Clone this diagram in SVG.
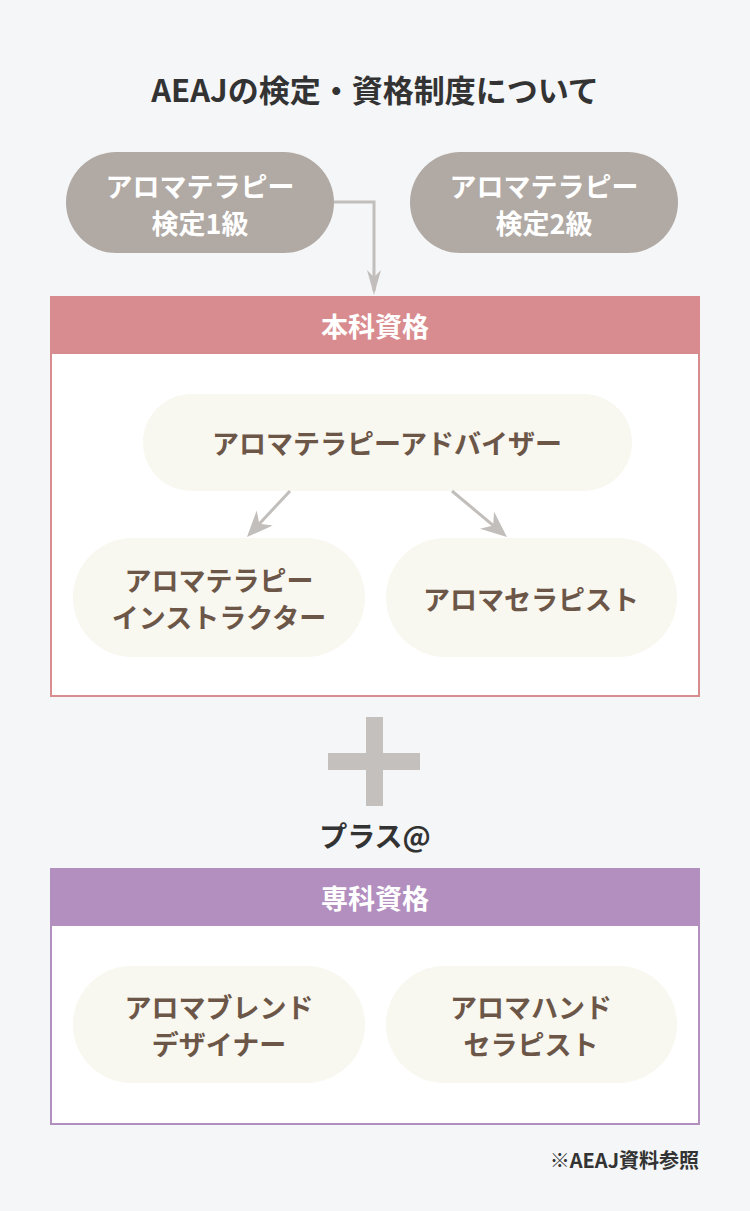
<svg xmlns="http://www.w3.org/2000/svg" width="750" height="1211" viewBox="0 0 750 1211">
<defs>
<style>
text{font-family:"Noto Sans CJK JP","Noto Sans",sans-serif;font-weight:bold;text-anchor:middle;dominant-baseline:central}
.w{fill:#ffffff;font-size:27px}
.b{fill:#6b5647;font-size:27px}
.d{fill:#333333}
.grey{fill:#b0a9a4}
.cream{fill:#f8f7f0}
.conn{fill:none;stroke:#c2bebb;stroke-width:3}
</style>
<marker id="ah" viewBox="-30 -15 40 30" refX="0" refY="0" markerWidth="40" markerHeight="30" orient="auto" markerUnits="userSpaceOnUse">
<path d="M4,0 L-21,-7 L-14,0 L-21,7 Z" fill="#c2bebb"/>
</marker>
<marker id="ah2" viewBox="-30 -15 40 30" refX="0" refY="0" markerWidth="40" markerHeight="30" orient="auto" markerUnits="userSpaceOnUse">
<path d="M4,0 L-22,-11 L-14,0 L-22,11 Z" fill="#c2bebb"/>
</marker>
</defs>
<rect width="750" height="1211" fill="#f5f6f8"/>
<text id="title" class="d" x="375" y="88" font-size="31">AEAJの検定・資格制度について</text>

<g id="kentei1">
<rect class="grey" x="66" y="152" width="268" height="101" rx="50.5"/>
<text class="w" x="200" y="185">アロマテラピー<tspan x="200" dy="37">検定1級</tspan></text>
</g>
<g id="kentei2">
<rect class="grey" x="410" y="152" width="268" height="101" rx="50.5"/>
<text class="w" x="544" y="185">アロマテラピー<tspan x="544" dy="37">検定2級</tspan></text>
</g>

<g id="honka">
<rect x="51" y="297" width="648" height="399" fill="#ffffff" stroke="#d98c8f" stroke-width="2"/>
<rect x="50" y="297" width="650" height="57" fill="#d98c8f"/>
<text class="w" x="375" y="325">本科資格</text>
</g>
<g id="adviser">
<rect class="cream" x="143" y="394" width="489" height="97" rx="48.5"/>
<text class="b" x="387" y="442">アロマテラピーアドバイザー</text>
</g>
<g id="instructor">
<rect class="cream" x="73" y="538" width="292" height="119" rx="59.5"/>
<text class="b" x="219" y="579">アロマテラピー<tspan x="219" dy="37">インストラクター</tspan></text>
</g>
<g id="therapist">
<rect class="cream" x="386" y="538" width="291" height="119" rx="59.5"/>
<text class="b" x="531" y="598">アロマセラピスト</text>
</g>

<g id="plus">
<rect x="366" y="717" width="17" height="89" fill="#c4c0be"/>
<rect x="328" y="753" width="92" height="17" fill="#c4c0be"/>
<text class="d" x="375" y="835" font-size="28">プラス@</text>
</g>

<g id="senka">
<rect x="51" y="869" width="648" height="255" fill="#ffffff" stroke="#b38fc0" stroke-width="2"/>
<rect x="50" y="869" width="650" height="57" fill="#b38fc0"/>
<text class="w" x="375" y="897">専科資格</text>
</g>
<g id="blend">
<rect class="cream" x="73" y="966" width="292" height="117" rx="58.5"/>
<text class="b" x="219" y="1006">アロマブレンド<tspan x="219" dy="37">デザイナー</tspan></text>
</g>
<g id="hand">
<rect class="cream" x="386" y="966" width="291" height="117" rx="58.5"/>
<text class="b" x="531" y="1006">アロマハンド<tspan x="531" dy="37">セラピスト</tspan></text>
</g>

<text id="note" class="d" x="699" y="1159" font-size="20" style="text-anchor:end">※AEAJ資料参照</text>

<g id="connectors">
<path class="conn" d="M334,202 H374 V291" marker-end="url(#ah)"/>
<path class="conn" d="M290,491 L249.7,534.1" marker-end="url(#ah2)"/>
<path class="conn" d="M452,491 L503.9,534.4" marker-end="url(#ah2)"/>
</g>
</svg>
